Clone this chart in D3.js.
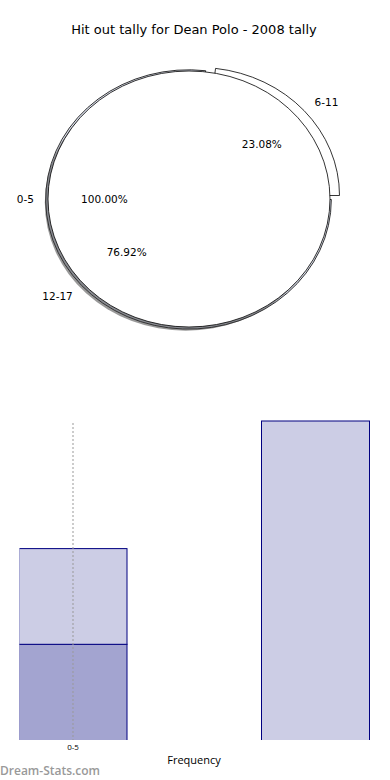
<!DOCTYPE html>
<html><head><meta charset="utf-8">
<script src="https://cdn.jsdelivr.net/npm/d3@7/dist/d3.min.js"></script>
<style>html,body{margin:0;padding:0;background:#fff;}svg{display:block;}</style>
</head><body>
<svg id="c" width="390" height="780"></svg>
<script>
// ---- data ----
const title = "Hit out tally for Dean Polo - 2008 tally";
const pieLabels = ["0-5", "6-11", "12-17"];
const pieOuter = [1];          // 0-5 drawn as its own full pie
const pieInner = [3, 10];      // 6-11, 12-17
const piePercents = ["100.00%", "23.08%", "76.92%"];
const barCategories = ["0-5", "6-11"];
const barDark = [3, 0];
const barLight = [3, 10];
const tickLabels = ["0-5"];
const xAxisLabel = "Frequency";
const watermark = "Dream-Stats.com";

const svg = d3.select("#c");
const font = "'DejaVu Sans', sans-serif";

svg.append("text").attr("x", 194).attr("y", 34).attr("text-anchor", "middle")
  .attr("font-family", font).attr("font-size", 13).attr("fill", "#000").text(title);

// ---- pie ----
const cx = 189, cy = 199, rx = 141, ry = 128;
const toD3 = th => (90 - th) * Math.PI / 180; // matplotlib angle (deg, ccw from x) -> d3 angle
const arcUnit = d3.arc().innerRadius(0);
const gp = svg.append("g");

function wedge(parent, th1, th2, R, fill, stroke, dx, dy) {
  const a = arcUnit.outerRadius(R)({startAngle: toD3(th2), endAngle: toD3(th1)});
  parent.append("path")
    .attr("transform", `translate(${cx + dx},${cy + dy}) scale(${rx},${ry})`)
    .attr("d", a).attr("fill", fill).attr("stroke", stroke)
    .attr("stroke-width", 0.8).attr("vector-effect", "non-scaling-stroke");
}

const tot = d3.sum(pieInner);
let cum = 0;
const innerAngles = pieInner.map(v => { const s = cum; cum += v / tot * 360; return [s, cum]; });

// 6-11 exploded
const exDx = 9.5, exDy = -3.5;
wedge(gp, innerAngles[0][0], innerAngles[0][1], 1.0, "#fff", "#000", exDx, exDy);
// 12-17
wedge(gp, innerAngles[1][0], innerAngles[1][1], 1.013, "#dfe3ef", "#000", -0.5, 0.5);
// shadow (semi-transparent)
gp.append("ellipse").attr("cx", cx - 3.2).attr("cy", cy + 3.8).attr("rx", rx).attr("ry", ry)
  .attr("fill", "#333").attr("opacity", 0.5);
// 0-5 full
gp.append("ellipse").attr("cx", cx).attr("cy", cy).attr("rx", rx).attr("ry", ry)
  .attr("fill", "#fff").attr("stroke", "#000").attr("stroke-width", 0.8);

function label(th, rf, txt, dx, dy, anchorAuto) {
  const t = th * Math.PI / 180;
  const x = cx + rf * rx * Math.cos(t) + dx, y = cy - rf * ry * Math.sin(t) + dy;
  let anchor = "middle";
  if (anchorAuto) anchor = Math.cos(t) > 0.001 ? "start" : (Math.cos(t) < -0.001 ? "end" : "middle");
  svg.append("text").attr("x", x).attr("y", y).attr("dy", "0.35em")
    .attr("text-anchor", anchor).attr("font-family", font).attr("font-size", 10.5)
    .attr("fill", "#000").text(txt);
}
label(180, 1.1, pieLabels[0], 0, 0, true);
label(180, 0.6, piePercents[0], 0, 0, false);
const m1 = (innerAngles[0][0] + innerAngles[0][1]) / 2;
label(m1, 1.1, pieLabels[1], exDx, exDy, true);
label(m1, 0.6, piePercents[1], exDx, exDy, false);
const m2 = (innerAngles[1][0] + innerAngles[1][1]) / 2;
label(m2, 1.12, pieLabels[2], 2, 2, true);
label(m2, 0.6, piePercents[2], 1, 2, false);

// ---- bars ----
const y = d3.scaleLinear().domain([0, 10]).range([740, 421]);
const x = d3.scalePoint().domain(barCategories).range([73, 315.5]);
const bw = 108;
const gb = svg.append("g");
svg.append("clipPath").attr("id", "pc")
  .append("rect").attr("x", 19.5).attr("y", 400).attr("width", 350.5).attr("height", 340);
const gbc = gb.append("g").attr("clip-path", "url(#pc)");

barCategories.forEach((c, i) => {
  if (barDark[i] > 0) {
    gbc.append("rect").attr("x", x(c) - bw / 2).attr("y", y(barDark[i]))
      .attr("width", bw).attr("height", y(0) - y(barDark[i]) + 2)
      .attr("fill", "#a3a4d0").attr("stroke", "#000080").attr("stroke-width", 1);
  }
  const b0 = barDark[i], b1 = barDark[i] + barLight[i];
  gbc.append("rect").attr("x", x(c) - bw / 2).attr("y", y(b1))
    .attr("width", bw).attr("height", y(b0) - y(b1) + (b0 === 0 ? 2 : 0))
    .attr("fill", "#cccde5").attr("stroke", "#000080").attr("stroke-width", 1);
});

tickLabels.forEach(t => {
  gb.append("line").attr("x1", x(t)).attr("x2", x(t)).attr("y1", 423).attr("y2", 740)
    .attr("stroke", "#999").attr("stroke-width", 1).attr("stroke-dasharray", "2,2");
  gb.append("text").attr("x", x(t)).attr("y", 750).attr("text-anchor", "middle")
    .attr("font-family", "'Open Sans', sans-serif").attr("font-size", 8)
    .attr("fill", "#000").text(t);
});

svg.append("text").attr("x", 194).attr("y", 764).attr("text-anchor", "middle")
  .attr("font-family", "'Open Sans', sans-serif").attr("font-size", 11)
  .attr("fill", "#000").text(xAxisLabel);

svg.append("text").attr("x", 0).attr("y", 775)
  .attr("font-family", "'Open Sans', sans-serif").attr("font-size", 12).attr("font-weight", 600)
  .attr("fill", "#999").text(watermark);
</script>
</body></html>
